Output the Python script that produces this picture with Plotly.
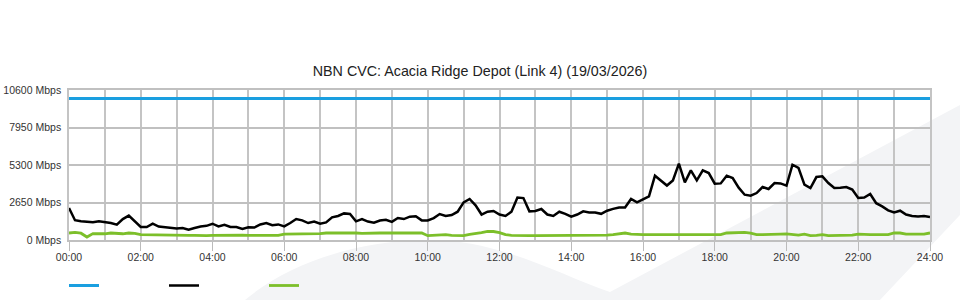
import plotly.graph_objects as go

# ---- data (10-minute samples, 00:00 .. 24:00) ----
hours = [i / 6 for i in range(145)]

capacity_mbps = [10000] * 145

download_mbps = [
    2260, 1400, 1330, 1300, 1250, 1330,
    1290, 1200, 1080, 1480, 1720, 1350,
    920, 920, 1150, 950, 900, 850,
    820, 850, 730, 850, 960, 1000,
    1150, 960, 1080, 920, 920, 780,
    900, 880, 1100, 1200, 1050, 1100,
    960, 1200, 1480, 1385, 1200, 1300,
    1150, 1240, 1600, 1700, 1880, 1836,
    1320, 1480, 1300, 1220, 1380, 1430,
    1280, 1555, 1480, 1650, 1672, 1385,
    1385, 1550, 1836, 1700, 1765, 2000,
    2660, 2898, 2450, 1800, 2000, 2050,
    1800, 1700, 2000, 3000, 2962, 2024,
    2050, 2190, 1800, 1700, 2000, 1850,
    1650, 1800, 2024, 1950, 1950, 1850,
    2071, 2200, 2300, 2300, 2898, 2661,
    2898, 3081, 4544, 4200, 3850, 4212,
    5392, 4071, 4919, 4212, 4919, 4731,
    3979, 4000, 4544, 4379, 3700, 3201,
    3130, 3318, 3743, 3605, 4026, 4000,
    3838, 5321, 5100, 3908, 3674, 4450,
    4497, 4026, 3674, 3700, 3745, 3563,
    2968, 3000, 3251, 2600, 2378, 2092,
    1950, 2071, 1800, 1700, 1668, 1700,
    1625,
]

upload_mbps = [
    495, 537, 480, 212, 450, 430,
    440, 495, 460, 440, 495, 470,
    375, 375, 375, 375, 375, 375,
    375, 360, 330, 320, 304, 304,
    330, 340, 320, 330, 330, 340,
    320, 330, 340, 330, 330, 330,
    420, 424, 424, 424, 430, 424,
    450, 495, 495, 495, 520, 540,
    495, 470, 495, 495, 495, 495,
    495, 495, 495, 495, 495, 495,
    304, 330, 375, 375, 330, 330,
    304, 400, 450, 520, 608, 600,
    520, 375, 330, 304, 330, 304,
    304, 304, 304, 330, 304, 304,
    304, 340, 330, 340, 340, 304,
    340, 375, 445, 495, 420, 375,
    375, 375, 375, 375, 380, 375,
    375, 410, 375, 375, 420, 375,
    375, 375, 495, 520, 537, 537,
    480, 375, 375, 375, 375, 420,
    430, 375, 350, 420, 304, 330,
    375, 304, 304, 304, 304, 340,
    420, 375, 375, 375, 375, 375,
    495, 495, 420, 420, 450, 420,
    495,
]

x_tick_vals = [0, 2, 4, 6, 8, 10, 12, 14, 16, 18, 20, 22, 24]
x_tick_text = ["00:00", "02:00", "04:00", "06:00", "08:00", "10:00", "12:00",
               "14:00", "16:00", "18:00", "20:00", "22:00", "24:00"]
y_tick_vals = [0, 2650, 5300, 7950, 10600]
y_tick_text = ["0 Mbps", "2650 Mbps", "5300 Mbps", "7950 Mbps", "10600 Mbps"]

title_text = "NBN CVC: Acacia Ridge Depot (Link 4) (19/03/2026)"

# ---- figure ----
FONT = "Liberation Sans, Arial, sans-serif"
L, R, T, B = 69, 30, 90, 60
W, H = 960, 300
PW, PH = W - L - R, H - T - B


def pp(px, py):
    """pixel -> paper coords (for the decorative background only)"""
    return f"{(px - L) / PW:.4f},{(H - B - py) / PH:.4f}"


fig = go.Figure()
fig.add_trace(go.Scatter(x=hours, y=capacity_mbps, mode="lines", name="",
                         line=dict(color="#1a9fe0", width=3)))
fig.add_trace(go.Scatter(x=hours, y=download_mbps, mode="lines", name="",
                         line=dict(color="#000000", width=2.5)))
fig.add_trace(go.Scatter(x=hours, y=upload_mbps, mode="lines", name="",
                         line=dict(color="#7cbf2a", width=2.8)))

band = (f"M{pp(245,300)} C{pp(290,262)} {pp(360,240)} {pp(430,240)} "
        f"C{pp(500,240)} {pp(560,275)} {pp(610,292)} "
        f"L{pp(960,105)} L{pp(960,215)} L{pp(880,300)} Z")

fig.update_layout(
    width=W, height=H,
    margin=dict(l=L, r=R, t=T, b=B, autoexpand=False),
    paper_bgcolor="white",
    plot_bgcolor="rgba(0,0,0,0)",
    font=dict(family=FONT, size=10.5, color="#333333"),
    title=dict(text=title_text, x=0.5, xref="container", xanchor="center",
               y=1 - 71 / H, yref="container", yanchor="middle",
               font=dict(family=FONT, size=14.3, color="#222222")),
    shapes=[dict(type="path", path=band, xref="paper", yref="paper",
                 fillcolor="#f3f4f6", line=dict(width=0), layer="below")],
    showlegend=True,
    legend=dict(orientation="h", x=-5 / PW, xanchor="left", y=-31 / PH, yanchor="top",
                entrywidth=55, entrywidthmode="pixels", itemwidth=30,
                bgcolor="rgba(0,0,0,0)", font=dict(size=10.5)),
    hovermode=False,
)

fig.update_xaxes(
    range=[0, 24], tickvals=x_tick_vals, ticktext=x_tick_text,
    ticks="outside", ticklen=9, tickcolor="#bbbbbb", tickwidth=1,
    showgrid=True, gridcolor="#c4c4c4", gridwidth=1.5,
    minor=dict(dtick=1, tick0=0, showgrid=True, gridcolor="#c4c4c4", gridwidth=1.5),
    zeroline=False, showline=True, linecolor="#c0c0c0", linewidth=2, mirror=True,
    automargin=False, ticklabelstandoff=-3,
    tickfont=dict(family=FONT, size=10.5, color="#333333"),
)
fig.update_yaxes(
    range=[0, 10600], tickvals=y_tick_vals, ticktext=y_tick_text,
    ticks="", showgrid=True, gridcolor="#c0c0c0", gridwidth=2,
    zeroline=False, showline=True, linecolor="#c4c4c4", linewidth=1.5, mirror=True,
    ticklabelstandoff=4, automargin=False,
    tickfont=dict(family=FONT, size=10.5, color="#333333"),
)

fig.write_html("out.html")
